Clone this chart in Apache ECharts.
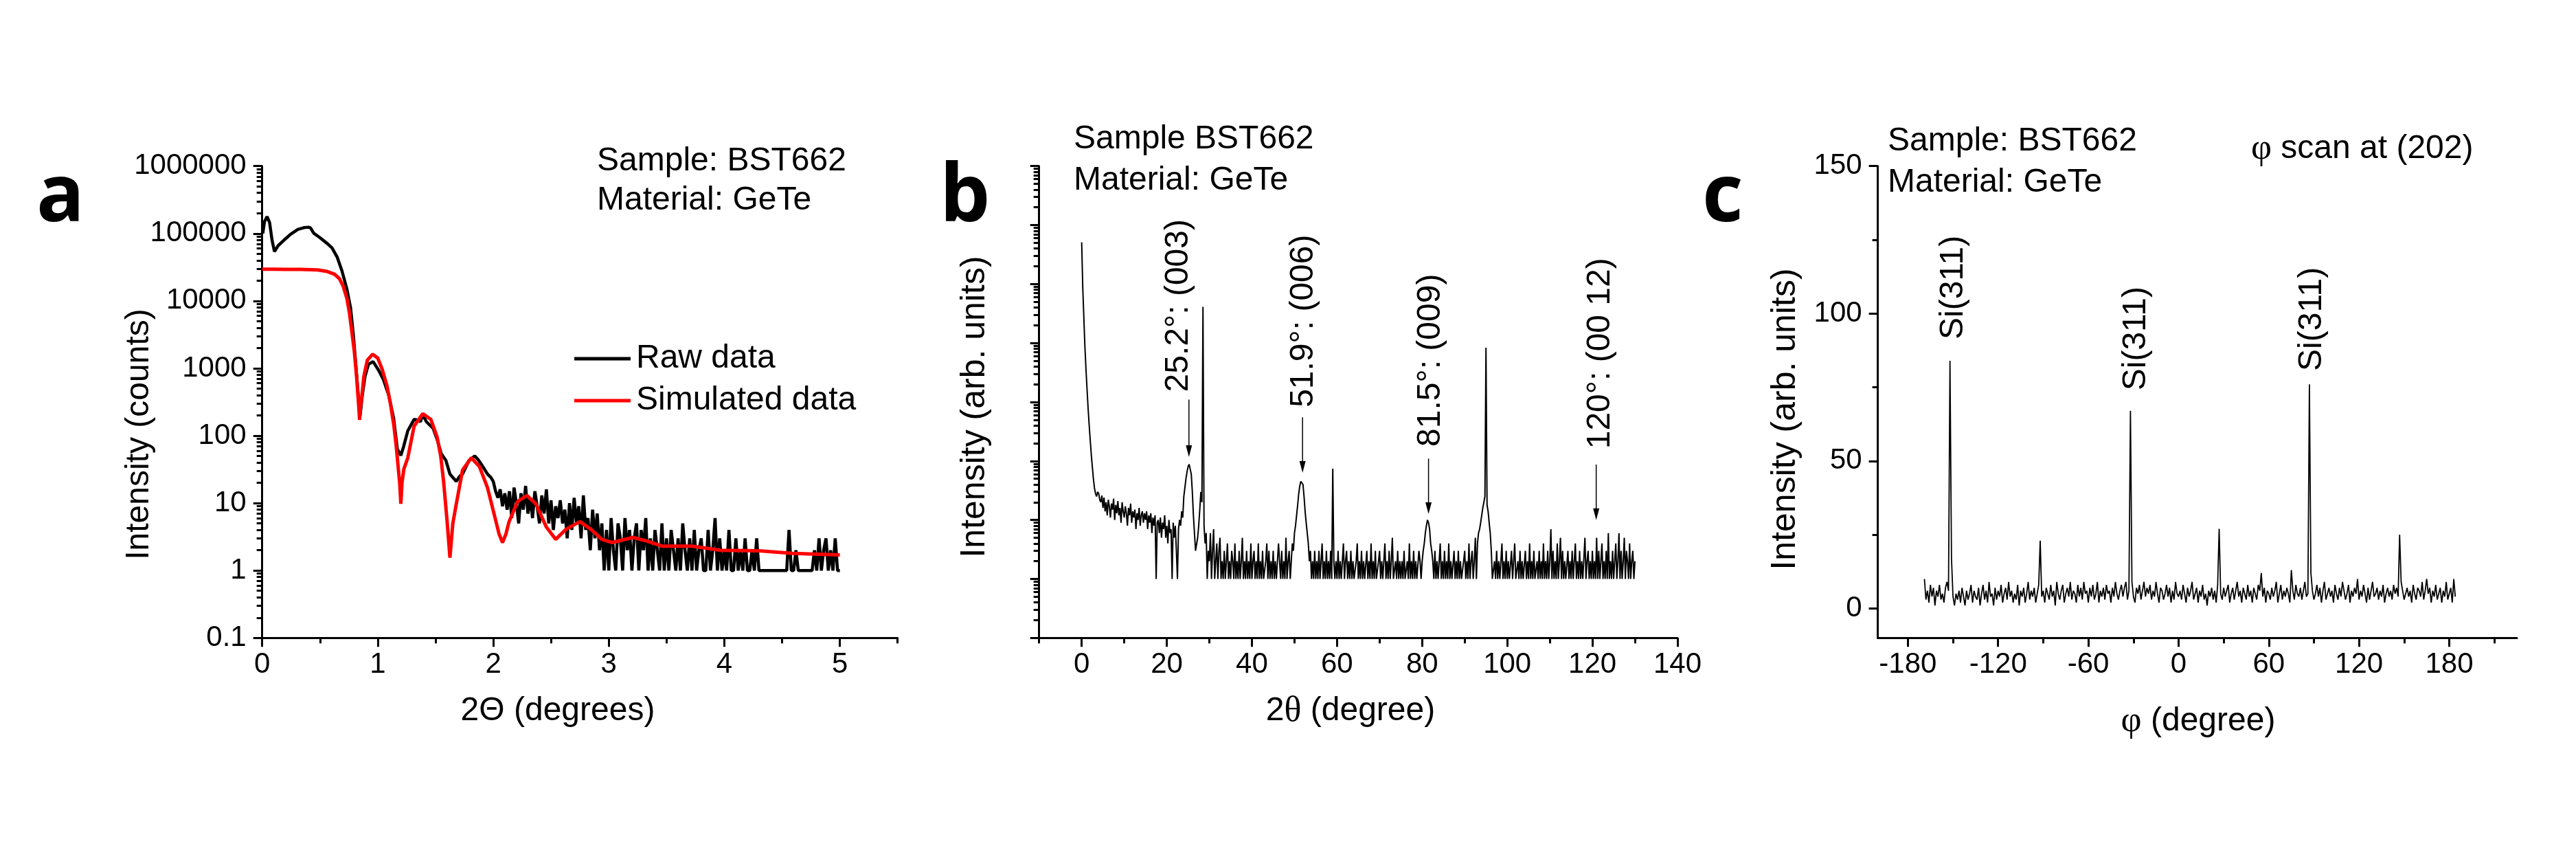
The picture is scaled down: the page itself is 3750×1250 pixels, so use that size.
<!DOCTYPE html>
<html><head><meta charset="utf-8">
<script src="https://cdn.jsdelivr.net/npm/echarts@6/dist/echarts.min.js"></script>
<style>html,body{margin:0;padding:0;background:#fff}#c{width:3750px;height:1250px}</style>
</head><body><div id="c"></div>
<script>
// ---------------- Panel a : reflectivity ----------------
const aLegend = ['Raw data', 'Simulated data'];
const aRawHead = [
  [0.005,100000],[0.02,150000],[0.042,178000],[0.064,145000],[0.085,80000],[0.106,54000],
  [0.138,66000],[0.2,83000],[0.244,97000],[0.308,115000],[0.36,122000],[0.4,124000],
  [0.418,121000],[0.446,101000],[0.499,87000],[0.563,71000],[0.605,61000],[0.648,45000],
  [0.69,28000],[0.733,15000],[0.765,7900],[0.79,3000],[0.815,900],[0.835,330],[0.848,200],
  [0.865,380],[0.89,760],[0.92,1150],[0.96,1260],[1.01,920],[1.05,675],[1.094,405],
  [1.137,186],[1.17,63],[1.2,51],[1.224,69],[1.26,118],[1.315,175],[1.35,170],[1.37,162],
  [1.39,206],[1.42,162],[1.48,128],[1.515,87],[1.55,54],[1.59,43],[1.625,27],[1.65,24],
  [1.68,21],[1.71,25],[1.734,27],[1.79,43],[1.84,50],[1.87,44],[1.9,37],[1.95,27],[1.98,24]
];
const aRawTailStart = 2.0, aRawTailStep = 0.02;
const aRawTail = [
  21,15,12,16,9,14,8,15,6,17,
  10,5,14,8,18,7,12,6,15,9,
  5,13,7,16,5,11,4,9,6,11,
  5,8,3,10,4,12,5,9,3,13,
  4,6,2,8,3,7,2,5,1,4,
  1,6,2,1,5,3,1,6,2,4,
  1,3,5,1,4,2,6,1,3,1,
  4,2,1,5,1,3,1,4,2,1,
  3,1,5,2,1,3,1,4,1,2,
  3,1,1,4,1,2,6,1,3,1,
  2,1,4,1,1,3,1,2,1,3,
  1,1,2,1,3,1,1,1,1,1,
  1,1,1,1,1,1,1,1,4,1,
  1,2,1,1,1,1,1,1,1,2,
  1,3,1,2,3,1,2,1,3,1,
  1
];
const aSim = [
  [0,29500],[0.1,29500],[0.2,29400],[0.33,29300],[0.478,28800],[0.563,27300],[0.627,24800],
  [0.669,21300],[0.70,16700],[0.733,10900],[0.754,6800],[0.775,3600],[0.797,1800],[0.818,710],
  [0.835,280],[0.843,171],[0.852,280],[0.865,420],[0.88,760],[0.91,1320],[0.956,1620],
  [1.0,1420],[1.04,950],[1.08,550],[1.11,300],[1.14,140],[1.16,70],[1.18,30],[1.19,20],
  [1.2,9.8],[1.21,20],[1.226,32],[1.26,47],[1.315,139],[1.39,212],[1.46,175],[1.515,94],
  [1.545,50],[1.57,21],[1.6,5.5],[1.625,1.55],[1.65,5.0],[1.68,9.7],[1.734,31],[1.81,47],
  [1.88,35],[1.95,17],[2.025,5.2],[2.05,3.5],[2.08,2.6],[2.11,3.5],[2.135,5.2],[2.21,10.5],
  [2.29,13],[2.37,9.7],[2.46,4.4],[2.54,2.9],[2.63,4.1],[2.75,5.3],[2.845,4.1],[2.94,2.9],
  [3.03,2.6],[3.21,3.1],[3.34,2.7],[3.46,2.3],[3.72,2.3],[3.97,2.0],[4.3,1.96],[4.59,1.8],[5.0,1.7]
];
const aXTicks = [0,1,2,3,4,5];
const aXMinorTicks = [0.5,1.5,2.5,3.5,4.5,5.5];
const aYTicks = [0.1,1,10,100,1000,10000,100000,1000000];
const aYLabels = ['0.1','1','10','100','1000','10000','100000','1000000'];

// ---------------- Panel b : 2theta scan (0 .. 130 deg, step 0.25) ----------------
const bX0 = 0, bStep = 0.25;
const bCounts = [
  510000,90000,28000,9000,3700,1700,800,420,230,130,80,50,35,28,25,30,28,22,20,26,
  16,24,14,20,12,22,17,11,19,15,23,10,18,13,21,12,16,9,20,14,
  11,17,13,8,16,12,19,9,14,11,15,7,13,10,16,8,12,14,9,13,
  10,14,7,12,9,13,6,11,8,12,1,9,10,6,11,5,9,7,12,5,
  8,4,10,6,7,1,9,5,8,3,1,7,10,8,14,11,25,35,50,65,
  80,88,85,60,30,12,6,3,3,5,8,15,30,20,41000,8,4,6,1,3,
  2,6,1,3,7,1,2,4,1,3,5,1,2,1,3,1,2,4,1,2,
  1,3,2,1,4,1,2,1,3,1,2,5,1,2,1,3,1,2,1,4,
  1,2,3,1,2,1,4,1,2,1,3,1,1,2,4,1,3,1,2,1,
  3,1,2,1,1,4,2,1,3,1,2,1,5,1,2,3,1,2,4,3,
  6,8,12,18,28,38,45,47,40,25,14,9,6,4,2,3,1,2,1,3,
  1,2,1,3,1,2,4,1,2,1,3,1,2,1,3,1,74,2,1,2,
  1,3,1,2,1,1,4,1,2,3,1,2,1,3,1,2,1,1,2,4,
  1,2,1,3,1,2,1,1,3,1,2,1,4,1,2,1,3,1,1,2,
  3,1,2,1,1,4,1,2,1,3,1,2,5,1,1,2,1,3,1,2,
  1,2,1,3,1,1,2,1,4,1,2,1,3,1,2,1,1,3,2,1,
  2,3,4,6,8,10,9,7,4,3,2,1,3,1,2,1,1,4,1,2,
  1,3,1,2,1,4,1,2,1,1,3,1,2,1,3,1,2,1,1,2,
  3,1,2,1,4,1,2,3,1,2,5,1,4,6,7,9,12,16,20,25,
  8300,18,14,9,6,3,1,1,2,1,3,1,2,1,1,4,1,2,1,3,
  1,2,1,1,3,1,2,4,1,1,2,1,3,1,2,1,1,3,1,2,
  1,4,1,2,1,3,1,1,2,1,3,1,2,1,4,1,2,1,3,1,
  2,7,1,3,1,2,1,4,1,2,5,1,3,1,2,1,1,3,1,2,
  1,3,1,2,4,1,2,1,3,1,2,1,1,5,1,2,3,1,2,1,
  3,1,2,1,5,1,3,1,2,4,1,2,1,3,1,6,1,2,1,3,
  1,2,4,1,2,6,1,3,1,2,5,1,3,2,1,4,1,2,3,1,
  2
];
const bPeakLabels = ['25.2°: (003)', '51.9°: (006)', '81.5°: (009)', '120°: (00 12)'];
const bArrowX   = [25.2, 51.9, 81.5, 120.9];
const bArrowTop = [1100, 550, 110, 87];
const bArrowTip = [117, 63, 12.6, 10];
const bLabelX = [22.8, 52.1, 82.0, 121.9];
const bLabelY = [1480, 810, 175, 160];
const bXTicks = [0,20,40,60,80,100,120,140];
const bXMinorTicks = [-10,10,30,50,70,90,110,130];
const bYTicks = [0.1,1,10,100,1000,10000,100000,1000000,10000000];

// ---------------- Panel c : phi scan (-169 .. 184 deg, step 1) ----------------
const cX0 = -169, cStep = 1;
const cCounts = [
  10,3,6,2,8,4,7,1,6,4,
  8,3,5,2,7,9,6,84,17,4,
  1,5,3,6,2,7,4,1,6,3,
  5,8,2,6,4,3,7,1,5,8,
  3,6,2,9,4,5,1,7,3,6,
  4,8,2,5,7,3,9,4,6,2,
  5,3,8,1,6,4,7,2,5,9,
  3,6,4,7,2,5,8,23,4,6,
  2,7,5,3,8,4,6,1,9,5,
  3,6,8,2,5,7,4,9,3,6,
  5,2,8,4,7,3,9,5,6,2,
  7,4,8,3,5,9,2,6,4,7,
  3,8,5,6,2,7,4,9,5,3,
  6,8,4,7,9,3,6,67,9,4,
  2,7,5,8,3,6,9,4,7,5,
  8,3,6,4,9,5,2,7,6,3,
  5,8,4,7,2,6,3,9,5,4,
  6,3,8,5,2,7,4,6,9,3,
  5,7,2,6,4,8,3,5,1,6,
  4,7,3,6,2,8,27,5,3,7,
  4,6,8,2,5,7,3,6,9,4,
  6,2,7,5,3,8,4,6,2,7,
  5,3,8,6,12,4,7,2,6,5,
  3,7,4,6,9,2,5,8,3,6,
  4,7,5,2,13,6,3,8,5,4,
  7,3,6,9,4,5,76,12,6,3,
  5,8,4,7,2,6,9,3,5,7,
  4,6,2,8,5,3,7,4,9,6,
  3,5,8,2,6,4,7,5,10,3,
  6,4,8,5,2,7,3,6,9,4,
  5,7,3,6,4,8,2,5,7,4,
  6,3,8,5,7,4,25,9,6,3,
  5,7,4,6,2,8,5,3,7,6,
  4,9,3,6,10,5,7,2,6,4,
  8,3,5,7,2,6,4,9,3,5,
  7,2,10,4
];
const cPeakLabels = ['Si(311)', 'Si(311)', 'Si(311)'];
const cLabelX = [-149.9, -28.2, 88.8];
const cLabelY = [91.2, 73.9, 80.5];
const cXTicks = [-180,-120,-60,0,60,120,180];
const cXMinorTicks = [-150,-90,-30,30,90,150,210];
const cYTicks = [0,50,100,150];
const cYMinorTicks = [25,75,125];

// ---------------- build ----------------
const FONT = 'Liberation Sans';
function logMinors(d0, d1) { const r = []; for (let d = d0; d <= d1; d++) for (let m = 2; m <= 9; m++) r.push(+(m * Math.pow(10, d)).toPrecision(6)); return r; }
const aYMinorTicks = logMinors(-1, 5);
const bYMinorTicks = logMinors(-1, 6);

const aRaw = aRawHead.concat(aRawTail.map((v, i) => [+(aRawTailStart + i * aRawTailStep).toFixed(3), v]));
const bData = bCounts.map((v, i) => [+(bX0 + i * bStep).toFixed(3), v]);
const cData = cCounts.map((v, i) => [cX0 + i * cStep, v]);

const grids = [
  {left: 381.7, top: 241.7, width: 925, height: 686.6},
  {left: 1512.7, top: 241.7, width: 929.3, height: 686.6},
  {left: 2733.6, top: 241.7, width: 930.4, height: 686.6}
];

function mainAxis(gi, type, min, max, pos, ticks, showLabel, margin, formatter) {
  const ax = {
    gridIndex: gi, type, min, max, position: pos, offset: 0,
    axisLine: {show: true, onZero: false, lineStyle: {color: '#000', width: 3}},
    axisTick: {show: true, inside: false, length: 13, lineStyle: {color: '#000', width: 3}, customValues: ticks},
    axisLabel: {show: showLabel, customValues: ticks, margin, color: '#000', fontSize: 42, fontFamily: FONT},
    splitLine: {show: false}, minorTick: {show: false}, minorSplitLine: {show: false}
  };
  if (type === 'log') ax.logBase = 10;
  if (formatter) ax.axisLabel.formatter = formatter;
  return ax;
}
function minorAxis(gi, type, min, max, pos, ticks) {
  const ax = {
    gridIndex: gi, type, min, max, position: pos, offset: 0,
    axisLine: {show: false, onZero: false},
    axisTick: {show: true, inside: false, length: 8, lineStyle: {color: '#000', width: 3}, customValues: ticks},
    axisLabel: {show: false, customValues: ticks},
    splitLine: {show: false}
  };
  if (type === 'log') ax.logBase = 10;
  return ax;
}
const aYFmt = v => aYLabels[Math.round(Math.log10(v)) + 1];

const option = {
  animation: false,
  backgroundColor: '#fff',
  textStyle: {fontFamily: FONT},
  grid: grids,
  legend: {
    data: aLegend, orient: 'vertical', left: 836, top: 498, padding: 0,
    icon: 'rect', itemWidth: 82, itemHeight: 5, itemGap: 13,
    textStyle: {fontSize: 48, lineHeight: 48, color: '#000', fontFamily: FONT, padding: [0, 0, 0, 3]}
  },
  xAxis: [
    mainAxis(0, 'value', 0, 5.5, 'bottom', aXTicks, true, 18),
    minorAxis(0, 'value', 0, 5.5, 'bottom', aXMinorTicks),
    mainAxis(1, 'value', -10, 140, 'bottom', bXTicks, true, 18),
    minorAxis(1, 'value', -10, 140, 'bottom', bXMinorTicks),
    mainAxis(2, 'value', -200, 225, 'bottom', cXTicks, true, 18),
    minorAxis(2, 'value', -200, 225, 'bottom', cXMinorTicks)
  ],
  yAxis: [
    mainAxis(0, 'log', 0.1, 1000000, 'left', aYTicks, true, 23, aYFmt),
    minorAxis(0, 'log', 0.1, 1000000, 'left', aYMinorTicks),
    mainAxis(1, 'log', 0.1, 10000000, 'left', bYTicks, false, 23),
    minorAxis(1, 'log', 0.1, 10000000, 'left', bYMinorTicks),
    mainAxis(2, 'value', -10, 150, 'left', cYTicks, true, 23),
    minorAxis(2, 'value', -10, 150, 'left', cYMinorTicks)
  ],
  series: [
    {name: aLegend[0], type: 'line', xAxisIndex: 0, yAxisIndex: 0, data: aRaw, symbol: 'none', showSymbol: false,
     lineStyle: {color: '#000', width: 4.5}, itemStyle: {color: '#000'}, z: 2},
    {name: aLegend[1], type: 'line', xAxisIndex: 0, yAxisIndex: 0, data: aSim, symbol: 'none', showSymbol: false,
     lineStyle: {color: '#ff0000', width: 5}, itemStyle: {color: '#ff0000'}, z: 3},
    {name: 'b', type: 'line', xAxisIndex: 2, yAxisIndex: 2, data: bData, symbol: 'none', showSymbol: false,
     lineStyle: {color: '#000', width: 2}},
    {name: 'c', type: 'line', xAxisIndex: 4, yAxisIndex: 4, data: cData, symbol: 'none', showSymbol: false,
     lineStyle: {color: '#000', width: 1.8}}
  ]
};

const chart = echarts.init(document.getElementById('c'), null, {renderer: 'canvas', width: 3750, height: 1250});
chart.setOption(option);

function txt(x, y, text, size, opts) {
  opts = opts || {};
  const st = {text, x: 0, y: 0, fill: '#000', fontSize: size, fontFamily: opts.family || FONT,
    fontWeight: opts.weight || 'normal',
    align: opts.align || 'left', verticalAlign: 'middle', textAlign: opts.align || 'left', textVerticalAlign: 'middle'};
  if (opts.rich) st.rich = opts.rich;
  return {type: 'text', x, y, rotation: opts.rot || 0, z: 100, style: st};
}
const serifG = s => ({g: {fontFamily: 'Liberation Serif', fontSize: s}});
const g = [];
// panel letters
g.push(txt(53, 289, 'a', 116, {family: 'Open Sans', weight: 'bold'}));
g.push(txt(1368, 289, 'b', 116, {family: 'Open Sans', weight: 'bold'}));
g.push(txt(2478, 289, 'c', 116, {family: 'Open Sans', weight: 'bold'}));
// panel a texts
g.push(txt(869, 235, 'Sample: BST662', 48));
g.push(txt(869, 292, 'Material: GeTe', 48));
g.push(txt(203, 632, 'Intensity (counts)', 48, {align: 'center', rot: Math.PI / 2}));
g.push(txt(812, 1035, '2Θ (degrees)', 48, {align: 'center'}));
// panel b texts
g.push(txt(1563, 203, 'Sample BST662', 48));
g.push(txt(1563, 263, 'Material: GeTe', 48));
g.push(txt(1419, 592, 'Intensity (arb. units)', 50, {align: 'center', rot: Math.PI / 2}));
g.push(txt(1966, 1035, '2{g|θ} (degree)', 48, {align: 'center', rich: serifG(52)}));
// panel c texts
g.push(txt(2748, 206, 'Sample: BST662', 48));
g.push(txt(2748, 266, 'Material: GeTe', 48));
g.push(txt(3277, 217, '{g|φ} scan at (202)', 48, {rich: serifG(52)}));
g.push(txt(2599, 610, 'Intensity (arb. units)', 50, {align: 'center', rot: Math.PI / 2}));
g.push(txt(3200, 1050, '{g|φ} (degree)', 48, {align: 'center', rich: serifG(52)}));

// panel b arrows + labels (positions from data via the axes)
const toPx = (gi, pt) => chart.convertToPixel({xAxisIndex: gi * 2, yAxisIndex: gi * 2}, pt);
bArrowX.forEach((x, i) => {
  const p0 = toPx(1, [x, bArrowTop[i]]), p1 = toPx(1, [x, bArrowTip[i]]);
  g.push({type: 'line', z: 90, shape: {x1: p0[0], y1: p0[1], x2: p1[0], y2: p1[1] - 12}, style: {stroke: '#000', lineWidth: 1.5}});
  g.push({type: 'polygon', z: 90, shape: {points: [[p1[0] - 4.5, p1[1] - 17], [p1[0] + 4.5, p1[1] - 17], [p1[0], p1[1]]]}, style: {fill: '#000'}});
  const q = toPx(1, [bLabelX[i], bLabelY[i]]);
  g.push(txt(q[0], q[1], bPeakLabels[i], 48, {rot: Math.PI / 2}));
});
cLabelX.forEach((x, i) => {
  const q = toPx(2, [x, cLabelY[i]]);
  g.push(txt(q[0], q[1], cPeakLabels[i], 48, {rot: Math.PI / 2}));
});
chart.setOption({graphic: g});
</script></body></html>
